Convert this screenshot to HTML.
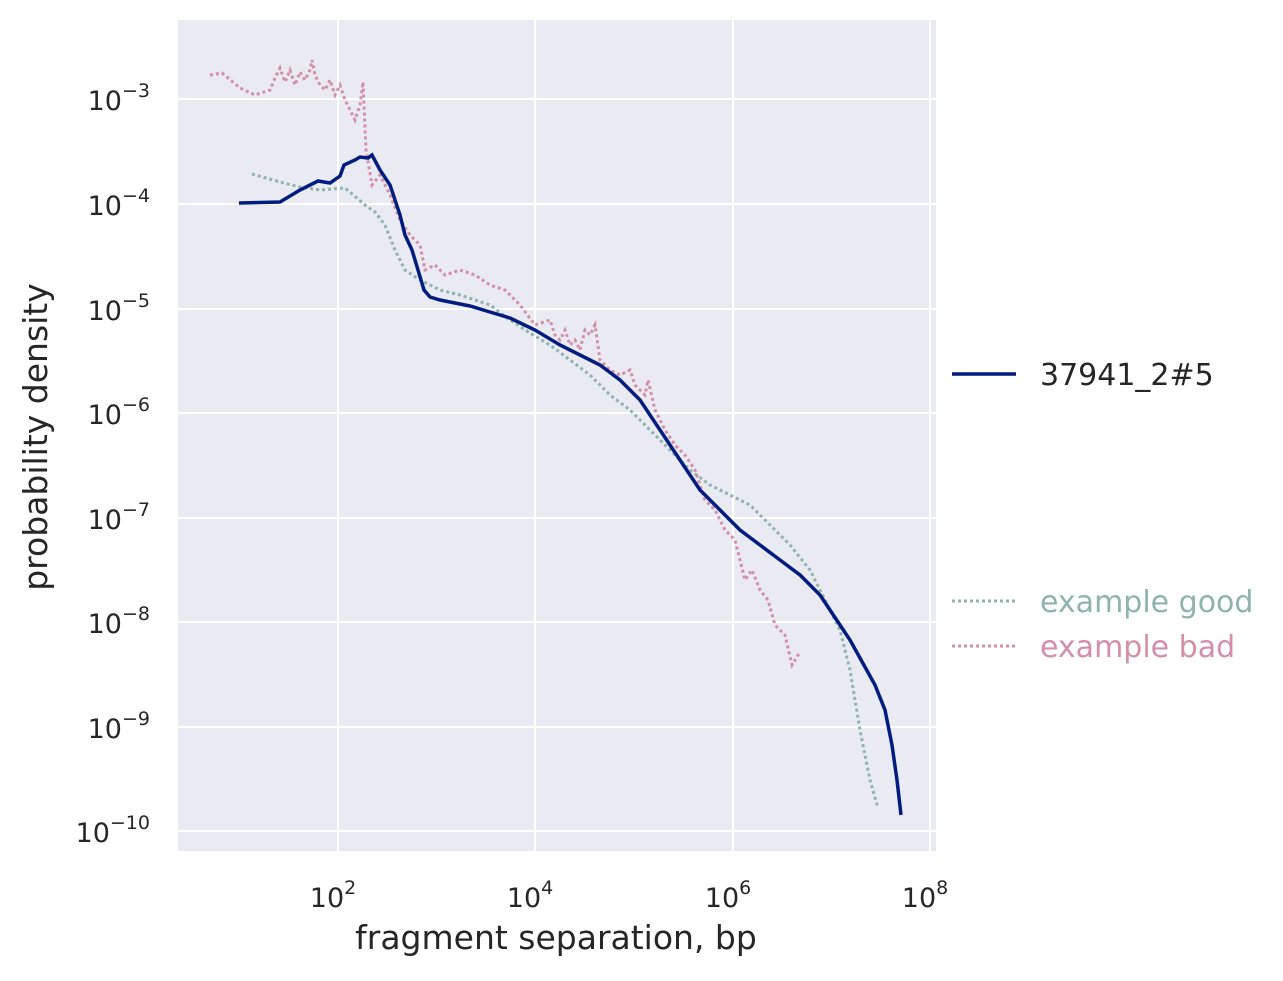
<!DOCTYPE html>
<html><head><meta charset="utf-8"><style>body{margin:0;background:#fff}</style></head><body>
<svg width="1283" height="976" xmlns="http://www.w3.org/2000/svg" font-family="'DejaVu Sans','Liberation Sans',sans-serif">
<rect x="178" y="20" width="758" height="831" fill="#eaeaf2"/>
<g stroke="#fff" stroke-width="2">
<line x1="338" y1="20" x2="338" y2="851"/><line x1="535" y1="20" x2="535" y2="851"/><line x1="733" y1="20" x2="733" y2="851"/><line x1="930" y1="20" x2="930" y2="851"/>
<line x1="178" y1="99" x2="936" y2="99"/><line x1="178" y1="204" x2="936" y2="204"/><line x1="178" y1="309" x2="936" y2="309"/><line x1="178" y1="413" x2="936" y2="413"/><line x1="178" y1="518" x2="936" y2="518"/><line x1="178" y1="622" x2="936" y2="622"/><line x1="178" y1="727" x2="936" y2="727"/><line x1="178" y1="831" x2="936" y2="831"/>
</g>
<polyline fill="none" stroke="#8fb3ad" stroke-width="3" stroke-dasharray="3,3" points="252,174 280,182 300,187 320,190 345,188 365,205 375,212 385,225 395,250 405,270 420,280 440,290 460,295 490,305 510,320 530,333 550,345 570,360 590,375 610,395 630,410 650,430 670,450 690,470 710,485 730,495 750,505 770,525 790,545 810,570 825,600 840,630 850,670 860,730 870,780 878,808"/>
<polyline fill="none" stroke="#d38fa8" stroke-width="3" stroke-dasharray="3,3" points="210,75 222,73 240,88 255,95 270,90 275,78 280,68 285,82 290,70 295,85 300,72 305,80 310,70 312,60 315,75 320,85 325,90 330,80 335,95 340,85 345,100 350,110 355,120 360,105 363,82 366,150 372,185 380,175 390,195 400,220 410,235 420,245 425,270 435,265 445,275 460,270 475,275 490,285 505,290 520,305 535,325 550,320 555,335 560,340 565,330 570,345 575,340 580,350 585,330 590,335 595,325 600,360 610,370 620,375 630,370 635,385 645,395 648,380 655,410 665,430 675,445 685,455 695,470 705,500 715,510 725,530 735,540 745,580 752,570 760,590 768,600 775,625 785,635 792,665 800,652"/>
<polyline fill="none" stroke="#001c7f" stroke-width="3.5" points="239,203 280,202 300,190 318,181 330,183 340,176 344,165 355,160 360,157 368,158 372,155 380,170 390,185 400,215 405,235 412,250 418,270 424,290 430,297 440,300 455,303 470,306 490,312 510,318 535,330 560,345 580,355 600,365 620,380 640,400 660,430 680,460 700,490 720,510 740,530 760,545 780,560 800,575 820,595 840,625 850,640 860,658 875,685 885,710 892,745 897,780 901,815"/>
<g fill="#262626" font-size="27">
<g text-anchor="middle">
<text x="333" y="907">10<tspan dy="-13" font-size="19">2</tspan></text>
<text x="530" y="907">10<tspan dy="-13" font-size="19">4</tspan></text>
<text x="728" y="907">10<tspan dy="-13" font-size="19">6</tspan></text>
<text x="925" y="907">10<tspan dy="-13" font-size="19">8</tspan></text>
</g>
<g text-anchor="end">
<text x="150" y="110">10<tspan dy="-13" font-size="19">−3</tspan></text>
<text x="150" y="215">10<tspan dy="-13" font-size="19">−4</tspan></text>
<text x="150" y="320">10<tspan dy="-13" font-size="19">−5</tspan></text>
<text x="150" y="424">10<tspan dy="-13" font-size="19">−6</tspan></text>
<text x="150" y="529">10<tspan dy="-13" font-size="19">−7</tspan></text>
<text x="150" y="633">10<tspan dy="-13" font-size="19">−8</tspan></text>
<text x="150" y="738">10<tspan dy="-13" font-size="19">−9</tspan></text>
<text x="150" y="842">10<tspan dy="-13" font-size="19">−10</tspan></text>
</g>
<text x="556" y="949" text-anchor="middle" font-size="33">fragment separation, bp</text>
<text transform="translate(47,437) rotate(-90)" text-anchor="middle" font-size="33">probability density</text>
<line x1="952" y1="374" x2="1016" y2="374" stroke="#001c7f" stroke-width="3.5"/>
<text x="1040" y="385" font-size="30">37941_2#5</text>
<line x1="952" y1="601" x2="1016" y2="601" stroke="#8fb3ad" stroke-width="3" stroke-dasharray="3,3"/>
<text x="1040" y="612" font-size="30" fill="#8fb3ad">example good</text>
<line x1="952" y1="646" x2="1016" y2="646" stroke="#d38fa8" stroke-width="3" stroke-dasharray="3,3"/>
<text x="1040" y="657" font-size="30" fill="#d38fa8">example bad</text>
</g>
</svg>
</body></html>
